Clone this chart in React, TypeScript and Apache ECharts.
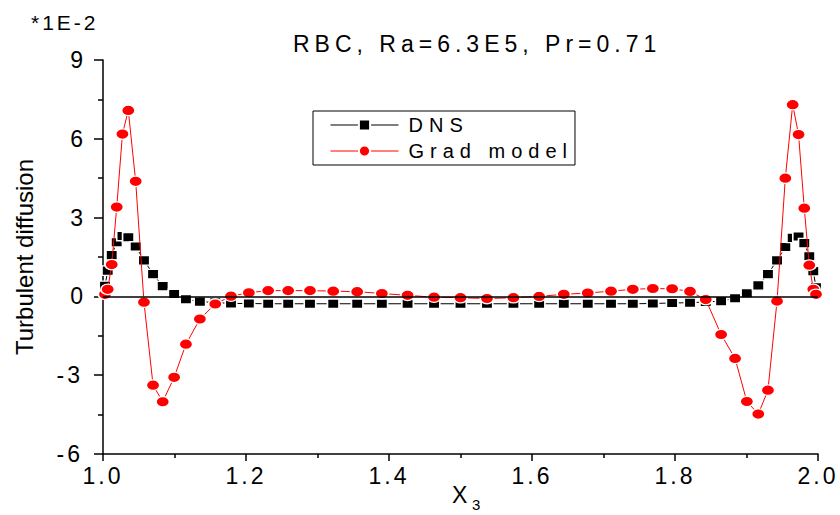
import React, { useEffect, useRef } from 'react';
import * as echarts from 'echarts';

// x3 positions (stretched grid, symmetric about 1.5)
const x3 = [
  1.0028, 1.0066, 1.0122, 1.0192, 1.0272, 1.0354, 1.0457, 1.0573, 1.07, 1.0835,
  1.0995, 1.116, 1.1355, 1.157, 1.179, 1.204, 1.231, 1.259, 1.2895, 1.322,
  1.3555, 1.39, 1.426, 1.463, 1.5, 1.537, 1.574, 1.61, 1.6445, 1.678,
  1.7105, 1.741, 1.769, 1.796, 1.821, 1.843, 1.8645, 1.884, 1.9005, 1.9165,
  1.93, 1.9427, 1.9543, 1.9646, 1.9728, 1.9808, 1.9878, 1.9934, 1.9972,
];

// DNS values (units of 1E-2)
const dnsValues = [
  0.4, 0.98, 1.57, 2.06, 2.3, 2.25, 1.9, 1.37, 0.85, 0.39,
  0.09, -0.11, -0.2, -0.23, -0.27, -0.27, -0.28, -0.28, -0.28, -0.28,
  -0.28, -0.28, -0.28, -0.28, -0.28, -0.28, -0.28, -0.28, -0.28, -0.28,
  -0.28, -0.28, -0.27, -0.25, -0.24, -0.21, -0.18, -0.07, 0.12, 0.42,
  0.85, 1.37, 1.88, 2.23, 2.28, 2.03, 1.53, 0.96, 0.35,
];

// Grad model values (units of 1E-2)
const gradValues = [
  0.08, 0.27, 1.21, 3.4, 6.18, 7.08, 4.38, -0.22, -3.38, -4.01,
  -3.08, -1.82, -0.86, -0.29, 0.01, 0.14, 0.22, 0.22, 0.22, 0.2,
  0.18, 0.11, 0.04, -0.03, -0.05, -0.08, -0.05, 0.0, 0.08, 0.13,
  0.2, 0.27, 0.3, 0.29, 0.19, -0.12, -1.45, -2.36, -4.0, -4.48,
  -3.57, -0.18, 4.5, 7.3, 6.16, 3.36, 1.19, 0.27, 0.08,
];

const seriesNames = ['DNS', 'Grad model'];
const titleText = 'RBC, Ra=6.3E5, Pr=0.71';
const yAxisTitle = 'Turbulent diffusion';
const xAxisTitle = 'X';
const xAxisSub = '3';
const scaleNote = '*1E-2';

const FONT = "'Liberation Sans', Arial, sans-serif";

export default function App() {
  const ref = useRef<HTMLDivElement>(null);

  useEffect(() => {
    document.body.style.margin = '0';
    const el = ref.current!;
    const chart = echarts.init(el, undefined, { renderer: 'svg' });

    const dnsData = x3.map((x, i) => [x, dnsValues[i]]);
    const gradData = x3.map((x, i) => [x, gradValues[i]]);

    const ellipse = 'path://M0,5 A5,5 0 1 1 10,5 A5,5 0 1 1 0,5 Z';

    chart.setOption({
      animation: false,
      backgroundColor: '#ffffff',
      textStyle: { fontFamily: FONT },
      title: {
        text: titleText,
        left: 293,
        top: 32,
        padding: 0,
        textStyle: { fontSize: 23, fontWeight: 'normal', color: '#000', fontFamily: FONT },
      },
      legend: {
        orient: 'vertical',
        left: 313,
        top: 111,
        padding: [4, 62, 4, 17],
        itemGap: 6,
        itemWidth: 68,
        itemHeight: 14,
        borderColor: '#000',
        borderWidth: 1,
        borderRadius: 0,
        lineStyle: { width: 1 },
        textStyle: { fontSize: 20, color: '#000', fontFamily: FONT, padding: [0, 0, 0, 5] },
        data: seriesNames,
      },
      grid: { left: 103, right: 22, top: 60, bottom: 61, containLabel: false, outerBoundsMode: 'none' },
      xAxis: {
        type: 'value',
        min: 1,
        max: 2,
        interval: 0.2,
        axisLine: { onZero: false, lineStyle: { color: '#000', width: 1.5 } },
        axisTick: { inside: false, length: 7, lineStyle: { color: '#000', width: 1.5 } },
        minorTick: { show: true, splitNumber: 2, length: 4, lineStyle: { color: '#000', width: 1.5 } },
        axisLabel: {
          margin: 10,
          fontSize: 23,
          color: '#000',
          fontFamily: FONT,
          formatter: (v: number) => v.toFixed(1),
        },
        splitLine: { show: false },
      },
      yAxis: {
        type: 'value',
        min: -6,
        max: 9,
        interval: 3,
        name: yAxisTitle,
        nameLocation: 'middle',
        nameGap: 67,
        nameTextStyle: { fontSize: 24, color: '#000', fontFamily: FONT },
        axisLine: { onZero: false, lineStyle: { color: '#000', width: 1.5 } },
        axisTick: { inside: false, length: 9, lineStyle: { color: '#000', width: 1.5 } },
        minorTick: { show: true, splitNumber: 2, length: 5, lineStyle: { color: '#000', width: 1.5 } },
        axisLabel: { margin: 20, fontSize: 23, color: '#000', fontFamily: FONT },
        splitLine: { show: false },
      },
      graphic: [
        {
          type: 'text',
          left: 31,
          top: 12,
          style: { text: scaleNote, fontSize: 21, fill: '#000', fontFamily: FONT },
        },
        {
          type: 'text',
          left: 452,
          top: 483,
          style: { text: xAxisTitle, fontSize: 23, fill: '#000', fontFamily: FONT },
        },
        {
          type: 'text',
          left: 472,
          top: 497,
          style: { text: xAxisSub, fontSize: 15, fill: '#000', fontFamily: FONT },
        },
      ],
      series: [
        {
          name: seriesNames[0],
          type: 'line',
          data: dnsData,
          symbol: 'rect',
          symbolSize: [11.5, 9.5],
          showAllSymbol: true,
          itemStyle: { color: '#000', borderColor: '#fff', borderWidth: 1.5 },
          lineStyle: { color: '#000', width: 1 },
          z: 3,
          markLine: {
            silent: true,
            symbol: ['none', 'none'],
            label: { show: false },
            lineStyle: { color: '#000', width: 1.5, type: 'solid' },
            data: [{ yAxis: 0 }],
          },
        },
        {
          name: seriesNames[1],
          type: 'line',
          data: gradData,
          symbol: ellipse,
          symbolSize: [13.5, 10.5],
          showAllSymbol: true,
          itemStyle: { color: '#ff0000', borderColor: '#fff', borderWidth: 1.5 },
          lineStyle: { color: '#ff0000', width: 1 },
          z: 4,
        },
      ],
    });

    const spacing: Record<string, number> = {
      [titleText]: 5,
      DNS: 6,
      'Grad model': 6,
      [scaleNote]: 3,
    };
    const applySpacing = () => {
      el.querySelectorAll('text').forEach((t) => {
        const s = (t.textContent || '').trim();
        if (s in spacing) t.setAttribute('letter-spacing', String(spacing[s]));
        else if (/^-?\d/.test(s) && s.length > 1) t.setAttribute('letter-spacing', '3');
      });
    };
    applySpacing();
    chart.on('finished', applySpacing);

    return () => {
      chart.dispose();
    };
  }, []);

  return <div ref={ref} style={{ width: 840, height: 515 }} />;
}
